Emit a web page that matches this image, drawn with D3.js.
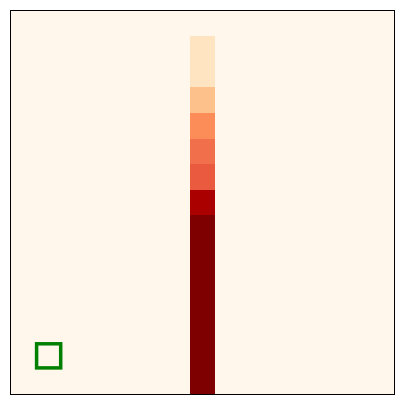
<!DOCTYPE html>
<html>
<head>
<meta charset="utf-8">
<script src="https://cdn.jsdelivr.net/npm/d3@7"></script>
<style>
  html, body { margin: 0; padding: 0; background: #ffffff; }
  svg { display: block; }
</style>
</head>
<body>
<svg id="chart" width="405" height="405"></svg>
<script>
// ---- data ----
const gridSize = 15;                 // 15 x 15 grid
const activeColumn = 7;              // the only non-zero column
// normalized values (0..1) of the active column, row 0 at top
const columnValues = [0, 0.15, 0.15, 0.34, 0.5, 0.594, 0.651, 0.897, 1, 1, 1, 1, 1, 1, 1];
const markerCell = { col: 1, row: 13 };  // green outlined cell

// OrRd (piecewise linear, like matplotlib)
const orRdStops = ["#fff7ec", "#fee8c8", "#fdd49e", "#fdbb84", "#fc8d59", "#ef6548", "#d7301f", "#b30000", "#7f0000"];

// ---- build cell table ----
const cells = [];
for (let r = 0; r < gridSize; r++) {
  for (let c = 0; c < gridSize; c++) {
    cells.push({ row: r, col: c, value: c === activeColumn ? columnValues[r] : 0 });
  }
}

// ---- layout ----
const plotLeft = 10.5, plotTop = 10.5, plotSize = 384;
const svg = d3.select("#chart");
const g = svg.append("g").attr("transform", `translate(${plotLeft},${plotTop})`);

const x = d3.scaleBand().domain(d3.range(gridSize)).range([0, plotSize]).padding(0);
const y = d3.scaleBand().domain(d3.range(gridSize)).range([0, plotSize]).padding(0);
const color = d3.scaleLinear()
  .domain(d3.range(orRdStops.length).map(i => i / (orRdStops.length - 1)))
  .range(orRdStops)
  .interpolate(d3.interpolateRgb);

g.selectAll("rect.cell")
  .data(cells)
  .join("rect")
  .attr("class", "cell")
  .attr("x", d => x(d.col))
  .attr("y", d => y(d.row))
  .attr("width", x.bandwidth() + 0.5)
  .attr("height", y.bandwidth() + 0.5)
  .attr("fill", d => color(d.value))
  .attr("shape-rendering", "crispEdges");

// green marker square
g.append("rect")
  .attr("x", x(markerCell.col) + 0.5)
  .attr("y", y(markerCell.row) + 0.5)
  .attr("width", x.bandwidth() - 1.5)
  .attr("height", y.bandwidth() - 1.5)
  .attr("fill", "none")
  .attr("stroke", "#008000")
  .attr("stroke-width", 3.5);

// frame
g.append("rect")
  .attr("x", 0).attr("y", 0)
  .attr("width", plotSize).attr("height", plotSize)
  .attr("fill", "none")
  .attr("stroke", "#000")
  .attr("stroke-width", 1);
</script>
</body>
</html>
